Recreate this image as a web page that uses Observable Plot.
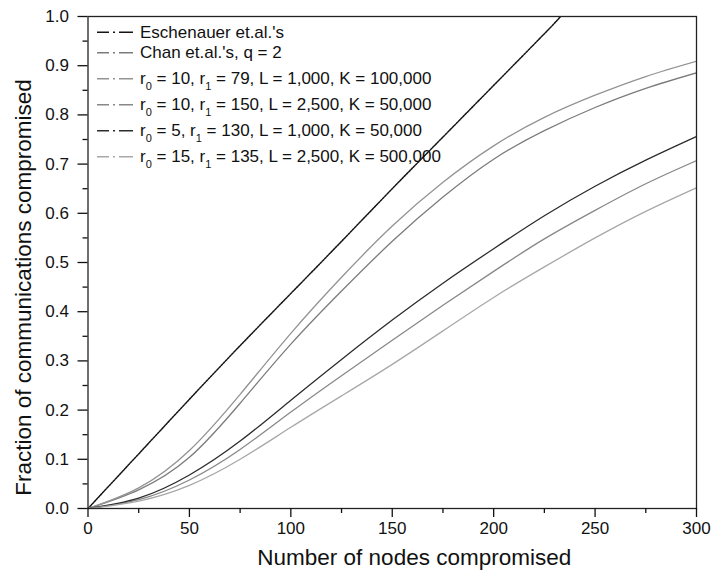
<!DOCTYPE html>
<html>
<head>
<meta charset="utf-8">
<script src="https://cdn.jsdelivr.net/npm/d3@7"></script>
<script src="https://cdn.jsdelivr.net/npm/@observablehq/plot@0.6"></script>
<style>
  html, body { margin: 0; padding: 0; background: #fff; }
  #chart svg { display: block; }
</style>
</head>
<body>
<div id="chart"></div>
<script>
// Number of nodes compromised at which the curves are sampled
const nodes = [0, 25, 50, 75, 100, 125, 150, 175, 200, 225, 250, 275, 300];
const eschenauerNodes = [0, 25, 50, 75, 100, 125, 150, 175, 200, 225, 233];

// Fraction of communications compromised, one array per scheme
const eschenauer = [0, 0.111, 0.222, 0.331, 0.437, 0.543, 0.650, 0.755, 0.860, 0.965, 1.0];
const chanQ2    = [0, 0.038, 0.104, 0.214, 0.334, 0.442, 0.543, 0.633, 0.710, 0.768, 0.815, 0.854, 0.8855];
const r10r79    = [0, 0.042, 0.118, 0.232, 0.356, 0.470, 0.574, 0.663, 0.737, 0.795, 0.840, 0.878, 0.909];
const r10r150   = [0, 0.018, 0.058, 0.120, 0.196, 0.270, 0.342, 0.413, 0.482, 0.548, 0.606, 0.660, 0.707];
const r5r130    = [0, 0.021, 0.068, 0.137, 0.220, 0.303, 0.383, 0.458, 0.528, 0.595, 0.655, 0.708, 0.756];
const r15r135   = [0, 0.015, 0.047, 0.100, 0.165, 0.229, 0.293, 0.361, 0.429, 0.491, 0.550, 0.604, 0.652];

// Legend labels ("_d" marks a subscript digit)
const labels = [
  "Eschenauer et.al.'s",
  "Chan et.al.'s, q = 2",
  "r_0 = 10, r_1 = 79, L = 1,000, K = 100,000",
  "r_0 = 10, r_1 = 150, L = 2,500, K = 50,000",
  "r_0 = 5, r_1 = 130, L = 1,000, K = 50,000",
  "r_0 = 15, r_1 = 135, L = 2,500, K = 500,000"
];

// Axis ticks
const xTicks = [0, 50, 100, 150, 200, 250, 300];
const xMinor = [25, 75, 125, 175, 225, 275];
const yTicks = [0, 0.1, 0.2, 0.3, 0.4, 0.5, 0.6, 0.7, 0.8, 0.9, 1.0];
const yMinor = [0.05, 0.15, 0.25, 0.35, 0.45, 0.55, 0.65, 0.75, 0.85, 0.95];

const xTitle = "Number of nodes compromised";
const yTitle = "Fraction of communications compromised";

// Stroke styles per series (same order as labels)
const strokes = ["#141414", "#7c7c7c", "#939393", "#888888", "#2c2c2c", "#a8a8a8"];
const dashes  = ["1.8,1.3", null, null, null, null, null];

const xs = [eschenauerNodes, nodes, nodes, nodes, nodes, nodes];
const ys = [eschenauer, chanQ2, r10r79, r10r150, r5r130, r15r135];

const seriesRows = ys.map((vals, k) => vals.map((v, i) => ({x: xs[k][i], y: v})));

const font = '"Liberation Sans", Arial, Helvetica, sans-serif';

// In-frame legend: dash-dot sample + label with subscripts
function legend(index, scales, values, dimensions) {
  const ml = (dimensions && dimensions.marginLeft) || 87.5;
  const mt = (dimensions && dimensions.marginTop) || 16;
  const g = d3.create("svg:g")
    .attr("font-family", font)
    .attr("font-size", 17)
    .attr("text-anchor", "start")
    .attr("fill", "#111");
  let y = mt + 21.7;
  labels.forEach((label, k) => {
    const hasSub = label.includes("_");
    if (k > 0) y += hasSub ? 26 : 20.6;
    g.append("line")
      .attr("x1", ml + 9.5).attr("x2", ml + 45.5)
      .attr("y1", y - 5.5).attr("y2", y - 5.5)
      .attr("stroke", strokes[k])
      .attr("stroke-width", 1.4)
      .attr("stroke-dasharray", "12,4,2,4,14");
    const t = g.append("text").attr("x", ml + 52.5).attr("y", y);
    const parts = label.split(/(_\d)/);
    let lowered = false;
    parts.forEach(p => {
      if (!p) return;
      if (p.startsWith("_")) {
        t.append("tspan").attr("font-size", 11).attr("dy", 5.5).text(p.slice(1));
        lowered = true;
      } else {
        const ts = t.append("tspan").text(p);
        if (lowered) { ts.attr("dy", -5.5); lowered = false; }
      }
    });
  });
  return g.node();
}

const chart = Plot.plot({
  width: 712,
  height: 574,
  marginLeft: 87.5,
  marginRight: 16,
  marginTop: 16,
  marginBottom: 66,
  style: {fontFamily: font, fontSize: "17px", color: "#111", background: "#fff"},
  x: {domain: [0, 300]},
  y: {domain: [0, 1]},
  marks: [
    ...seriesRows.map((rows, k) => Plot.line(rows, {
      x: "x", y: "y",
      stroke: strokes[k],
      strokeWidth: k === 0 ? 1.5 : 1.3,
      strokeDasharray: dashes[k],
      curve: "natural",
      clip: true
    })),
    Plot.frame({stroke: "#222", strokeWidth: 1.3}),
    Plot.axisX(xTicks, {tickSize: 9, tickPadding: 4, strokeWidth: 1.3, label: null}),
    Plot.axisX(xMinor, {tickSize: 5, strokeWidth: 1.3, tickFormat: () => "", label: null}),
    Plot.axisY(yTicks, {tickSize: 10, tickPadding: 9, strokeWidth: 1.3, tickFormat: d3.format(".1f"), label: null}),
    Plot.axisY(yMinor, {tickSize: 5, strokeWidth: 1.3, tickFormat: () => "", label: null}),
    Plot.text([xTitle], {frameAnchor: "bottom", textAnchor: "middle", lineAnchor: "middle", dx: 22, dy: 49, fontSize: 22.5, fill: "#111"}),
    Plot.text([yTitle], {frameAnchor: "left", textAnchor: "middle", lineAnchor: "middle", rotate: -90, dx: -64.5, dy: 25, fontSize: 22.5, fill: "#111"}),
    legend
  ]
});

document.getElementById("chart").appendChild(chart);
</script>
</body>
</html>
